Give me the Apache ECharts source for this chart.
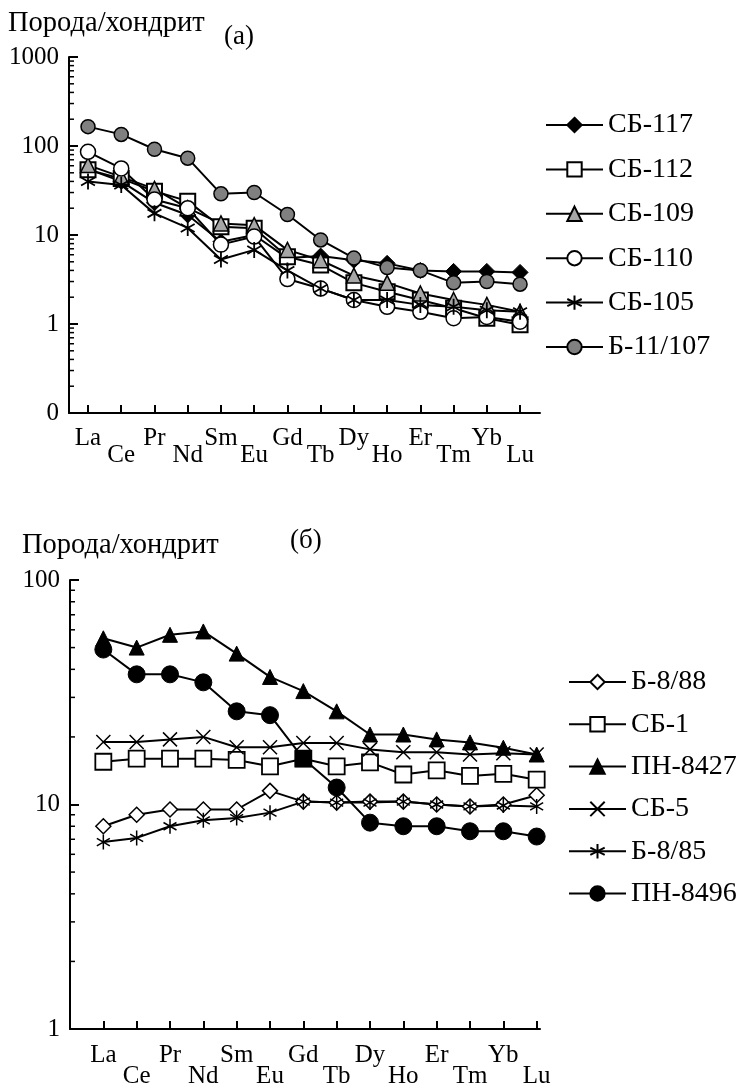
<!DOCTYPE html>
<html>
<head>
<meta charset="utf-8">
<script src="https://cdn.jsdelivr.net/npm/echarts@6/dist/echarts.min.js"></script>
<style>
  html, body { margin: 0; padding: 0; background: #fff; }
  #chart { width: 740px; height: 1086px; }
</style>
</head>
<body>
<div id="chart"></div>
<script>
var fontFamily = 'Liberation Serif'
var elements = ['La', 'Ce', 'Pr', 'Nd', 'Sm', 'Eu', 'Gd', 'Tb', 'Dy', 'Ho', 'Er', 'Tm', 'Yb', 'Lu']

// панель (а)
var namesA = ['СБ-117', 'СБ-112', 'СБ-109', 'СБ-110', 'СБ-105', 'Б-11/107']
var sb117 = [55, 40, 23, 16.8, 8.4, 10, 5.5, 5.8, 5.2, 4.8, 4.0, 3.9, 3.9, 3.8]
var sb112 = [54, 43, 31, 24, 12.4, 11.9, 5.7, 4.6, 2.9, 2.3, 1.86, 1.5, 1.16, 0.98]
var sb109 = [61, 45, 33, 20, 13.5, 12.9, 6.8, 5.2, 3.5, 2.9, 2.2, 1.86, 1.64, 1.37]
var sb110 = [86, 56, 25, 20, 7.8, 9.6, 3.2, 2.5, 1.86, 1.56, 1.37, 1.16, 1.2, 1.06]
var sb105 = [40, 36.5, 17.5, 12, 5.3, 6.8, 4.0, 2.5, 1.86, 1.86, 1.64, 1.56, 1.43, 1.37]
var b11107 = [165, 135, 92, 73, 29, 30, 17, 8.8, 5.5, 4.3, 4.0, 2.9, 3.0, 2.8]

// панель (б)
var namesB = ['Б-8/88', 'СБ-1', 'ПН-8427', 'СБ-5', 'Б-8/85', 'ПН-8496']
var b888 = [8.0, 9.0, 9.5, 9.5, 9.5, 11.5, 10.3, 10.2, 10.3, 10.3, 10.0, 9.8, 10.0, 11.0]
var sb1 = [15.5, 16, 16, 16, 15.8, 14.8, 16, 14.8, 15.4, 13.6, 14.2, 13.4, 13.7, 12.9]
var pn8427 = [55, 50, 57, 59, 47, 37, 32, 26, 20.5, 20.5, 19.5, 18.9, 17.9, 16.7]
var sb5 = [19, 19, 19.5, 20, 18, 18, 18.8, 18.8, 17.6, 17.1, 17.1, 16.7, 16.9, 16.7]
var b885 = [6.8, 7.1, 8.0, 8.5, 8.7, 9.2, 10.3, 10.2, 10.2, 10.3, 10.0, 9.8, 9.9, 9.8]
var pn8496 = [49, 38, 38, 35, 26, 25, 16, 11.9, 8.3, 8.0, 8.0, 7.6, 7.6, 7.2]

var asterisk = 'path://M10,0L10,20M1.34,5L18.66,15M1.34,15L18.66,5'
var cross = 'path://M0,0L20,20M0,20L20,0'

function pairs (arr) {
  return arr.map(function (v, i) { return [i, v] })
}

function xAxisFor (gridIndex, min, max, margin, lh) {
  var idx = elements.map(function (e, i) { return i })
  return {
    type: 'value',
    gridIndex: gridIndex,
    min: min,
    max: max,
    axisLine: { onZero: false, lineStyle: { color: '#000', width: 2 } },
    axisTick: { inside: true, length: 8, lineStyle: { color: '#000', width: 2 }, customValues: idx },
    splitLine: { show: false },
    axisLabel: {
      customValues: idx,
      margin: margin,
      color: '#000',
      fontFamily: fontFamily,
      fontSize: 25,
      lineHeight: lh,
      formatter: function (v) {
        var i = Math.round(v)
        return i % 2 ? '\n' + elements[i] : elements[i]
      }
    }
  }
}

function yAxisFor (gridIndex, min, max) {
  return {
    type: 'log',
    logBase: 10,
    gridIndex: gridIndex,
    min: min,
    max: max,
    axisLine: { onZero: false, lineStyle: { color: '#000', width: 2 } },
    axisTick: { inside: true, length: 9, lineStyle: { color: '#000', width: 2 } },
    splitLine: { show: false },
    axisLabel: {
      margin: 10,
      color: '#000',
      fontFamily: fontFamily,
      fontSize: 25,
      formatter: function (v) { return v < 1 ? '0' : String(v) }
    }
  }
}

function line (name, data, idx, symbol, size, fill, border) {
  return {
    name: name,
    type: 'line',
    xAxisIndex: idx,
    yAxisIndex: idx,
    data: data,
    symbol: symbol,
    symbolSize: size,
    symbolKeepAspect: true,
    showAllSymbol: true,
    lineStyle: { color: '#000', width: 2 },
    itemStyle: { color: fill, borderColor: '#000', borderWidth: border },
    emphasis: { disabled: true }
  }
}

var pn8496Data = pairs(pn8496)
pn8496Data[6] = { value: [6, pn8496[6]], symbol: 'rect', symbolSize: 16 }

var legendText = { color: '#000', fontFamily: fontFamily, fontSize: 28, lineHeight: 28 }
var titleText = { color: '#000', fontFamily: fontFamily, fontSize: 28.5, fontWeight: 'normal' }
var tagText = { color: '#000', fontFamily: fontFamily, fontSize: 27, fontWeight: 'normal' }

var option = {
  animation: false,
  title: [
    { text: 'Порода/хондрит', left: 8, top: 9, padding: 0, textStyle: titleText },
    { text: '(а)', left: 224, top: 23, padding: 0, textStyle: tagText },
    { text: 'Порода/хондрит', left: 22, top: 531, padding: 0, textStyle: titleText },
    { text: '(б)', left: 290, top: 527, padding: 0, textStyle: tagText }
  ],
  grid: [
    { left: 69, top: 57, width: 471, height: 356, outerBoundsMode: 'none' },
    { left: 70, top: 580, width: 470, height: 449, outerBoundsMode: 'none' }
  ],
  xAxis: [
    xAxisFor(0, -0.572, 13.6, 17, 17),
    xAxisFor(1, -1.0, 13.1, 16, 21)
  ],
  yAxis: [
    yAxisFor(0, 0.1, 1000),
    yAxisFor(1, 1, 100)
  ],
  legend: [
    {
      data: namesA, orient: 'vertical', left: 545, top: 111,
      itemWidth: 57, itemHeight: 18, itemGap: 16.4, padding: 0,
      textStyle: legendText, selectedMode: false
    },
    {
      data: namesB, orient: 'vertical', left: 568, top: 668,
      itemWidth: 57, itemHeight: 18, itemGap: 14.3, padding: 0,
      textStyle: legendText, selectedMode: false
    }
  ],
  series: [
    line('СБ-117', pairs(sb117), 0, 'diamond', 16, '#000', 1),
    line('СБ-112', pairs(sb112), 0, 'rect', 15, '#fff', 2),
    line('СБ-109', pairs(sb109), 0, 'triangle', 15, '#a6a6a6', 1.5),
    line('СБ-110', pairs(sb110), 0, 'circle', 15, '#fff', 1.5),
    line('СБ-105', pairs(sb105), 0, asterisk, 16, 'transparent', 1.8),
    line('Б-11/107', pairs(b11107), 0, 'circle', 14, '#808080', 1.5),
    line('Б-8/88', pairs(b888), 1, 'diamond', 15, '#fff', 1.5),
    line('СБ-1', pairs(sb1), 1, 'rect', 16, '#fff', 1.8),
    line('ПН-8427', pairs(pn8427), 1, 'triangle', 15, '#000', 1),
    line('СБ-5', pairs(sb5), 1, cross, 14, 'transparent', 1.5),
    line('Б-8/85', pairs(b885), 1, asterisk, 15, 'transparent', 1.5),
    line('ПН-8496', pn8496Data, 1, 'circle', 17, '#000', 1)
  ]
}

var chart = echarts.init(document.getElementById('chart'), null, { renderer: 'canvas' })
chart.setOption(option)

// промежуточные деления логарифмической оси
function minorTicks (axisIndex, xMin, expFrom, expTo) {
  var x0 = chart.convertToPixel({ xAxisIndex: axisIndex }, xMin)
  var out = []
  for (var e = expFrom; e < expTo; e++) {
    for (var m = 2; m <= 9; m++) {
      var y = chart.convertToPixel({ yAxisIndex: axisIndex }, m * Math.pow(10, e))
      out.push({
        type: 'line',
        shape: { x1: x0, y1: y, x2: x0 + 5, y2: y },
        style: { stroke: '#000', lineWidth: 1.5 },
        silent: true
      })
    }
  }
  return out
}

chart.setOption({
  graphic: minorTicks(0, -0.572, -1, 3).concat(minorTicks(1, -1.0, 0, 2))
})
</script>
</body>
</html>
